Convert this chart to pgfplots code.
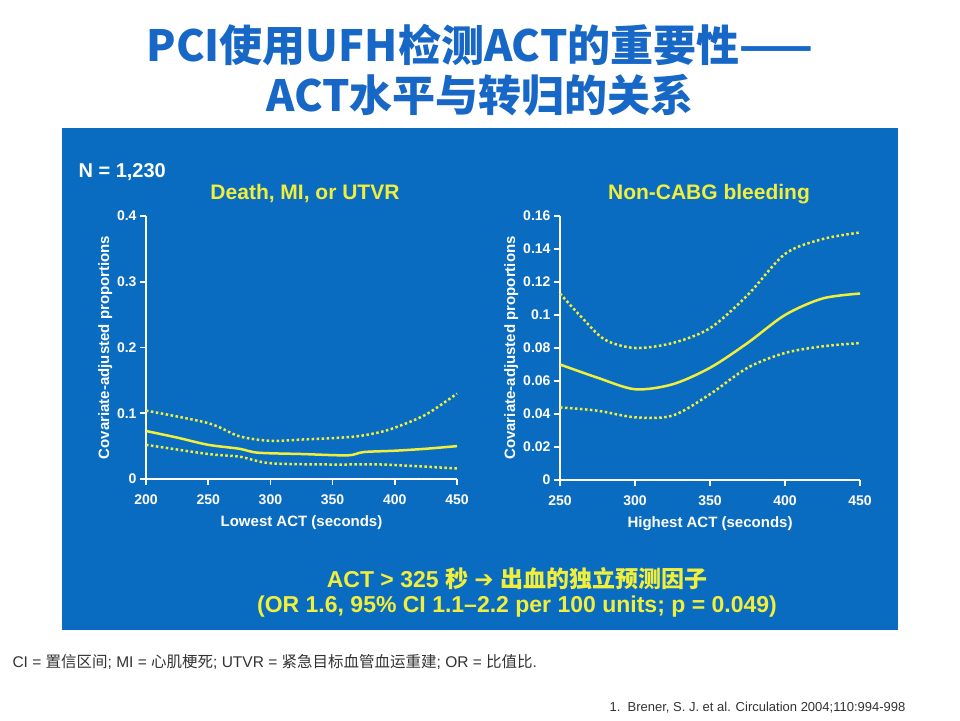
\documentclass[border=0pt]{standalone}
\usepackage{pgfplots}
\pgfplotsset{compat=1.18}
\usepackage{fontspec}
\setmainfont{Liberation Sans}
\newfontfamily\cjk{Noto Sans CJK SC}
\newfontfamily\dejavu{DejaVu Sans}
\definecolor{panel}{HTML}{0A6CC0}
\definecolor{ttl}{HTML}{1767C6}
\definecolor{yel}{HTML}{F2EE3C}
\begin{document}
\begin{tikzpicture}[x=1pt,y=1pt]
\path[fill=white] (0pt,0pt) rectangle (960pt,720pt);
\fill[panel] (62pt,90pt) rectangle (898pt,592pt);
\node[ttl,font=\cjk\bfseries\fontsize{43}{46}\selectfont] at (480pt,675pt) {PCI使用UFH检测ACT的重要性——};
\node[ttl,font=\cjk\bfseries\fontsize{43}{46}\selectfont] at (480pt,625pt) {ACT水平与转归的关系};
\node[white,font=\bfseries\fontsize{20}{24}\selectfont,anchor=west] at (75pt,548pt) {N = 1,230};
\node[yel,font=\bfseries\fontsize{21}{24}\selectfont] at (305pt,526pt) {Death, MI, or UTVR};
\node[yel,font=\bfseries\fontsize{21}{24}\selectfont] at (709pt,526pt) {Non-CABG bleeding};
\pgfplotsset{myax/.style={scale only axis, axis line style={white,line width=1.5pt,-},
 axis x line*=bottom, axis y line*=left, tick style={white,line width=1.5pt},
 tick align=outside, major tick length=6pt,
 ticklabel style={white,font=\bfseries\fontsize{14}{16}\selectfont},
 xticklabel style={yshift=-6pt},
 label style={white,font=\bfseries\fontsize{15}{17}\selectfont},
 /pgf/number format/assume math mode=true, /pgf/number format/fixed,
 ylabel={Covariate-adjusted proportions}, ylabel style={yshift=-2pt},
 xlabel style={yshift=-4pt},
 clip=false},
 sol/.style={yel,line width=2.5pt,smooth}, dot/.style={yel,line width=2.5pt,dash pattern=on 2.5pt off 2.5pt,smooth}}
\begin{axis}[myax, at={(146pt,241pt)}, anchor=south west, width=311pt, height=263pt,
 xmin=200,xmax=450,ymin=0,ymax=0.4, xtick={200,250,...,450}, ytick={0,0.1,0.2,0.3,0.4},
 yticklabels={0,0.1,0.2,0.3,0.4}, xlabel={Lowest ACT (seconds)}]
\addplot[sol] coordinates {(200,0.073)(225,0.063)(250,0.052)(275,0.046)(290,0.040)(325,0.038)(362,0.036)(375,0.041)(400,0.043)(425,0.046)(450,0.050)};
\addplot[dot] coordinates {(200,0.104)(250,0.085)(275,0.065)(300,0.058)(325,0.060)(365,0.064)(385,0.070)(400,0.078)(425,0.098)(450,0.130)};
\addplot[dot] coordinates {(200,0.052)(250,0.038)(275,0.034)(300,0.024)(350,0.022)(390,0.022)(450,0.016)};
\end{axis}
\begin{axis}[myax, at={(560pt,240pt)}, anchor=south west, width=300pt, height=264pt,
 xmin=250,xmax=450,ymin=0,ymax=0.16, xtick={250,300,...,450},
 ytick={0,0.02,0.04,0.06,0.08,0.1,0.12,0.14,0.16}, yticklabels={0,0.02,0.04,0.06,0.08,0.1,0.12,0.14,0.16},
 xlabel={Highest ACT (seconds)}]
\addplot[sol] coordinates {(250,0.070)(275,0.062)(300,0.055)(325,0.058)(350,0.068)(375,0.083)(400,0.100)(425,0.110)(450,0.113)};
\addplot[dot] coordinates {(250,0.113)(265,0.098)(280,0.085)(300,0.080)(325,0.083)(350,0.092)(375,0.112)(400,0.137)(425,0.146)(450,0.150)};
\addplot[dot] coordinates {(250,0.044)(275,0.042)(300,0.038)(325,0.039)(350,0.052)(375,0.068)(400,0.077)(425,0.081)(450,0.083)};
\end{axis}
\node[yel,font=\bfseries\fontsize{23}{26}\selectfont] at (517pt,141pt) {ACT > 325 {\cjk 秒} {\dejavu ➔} {\cjk 出血的独立预测因子}};
\node[yel,font=\bfseries\fontsize{23}{26}\selectfont] at (517pt,113pt) {(OR 1.6, 95\% CI 1.1–2.2 per 100 units; p = 0.049)};
\node[black!80,font=\fontsize{15.5}{18}\selectfont,anchor=west] at (9pt,58pt) {CI = {\cjk 置信区间}; MI = {\cjk 心肌梗死}; UTVR = {\cjk 紧急目标血管血运重建}; OR = {\cjk 比值比}.};
\node[black!80,font=\fontsize{13}{15}\selectfont,anchor=west] at (606pt,12pt) {1.\ \ Brener, S. J. et al. Circulation 2004;110:994-998};
\end{tikzpicture}
\end{document}
